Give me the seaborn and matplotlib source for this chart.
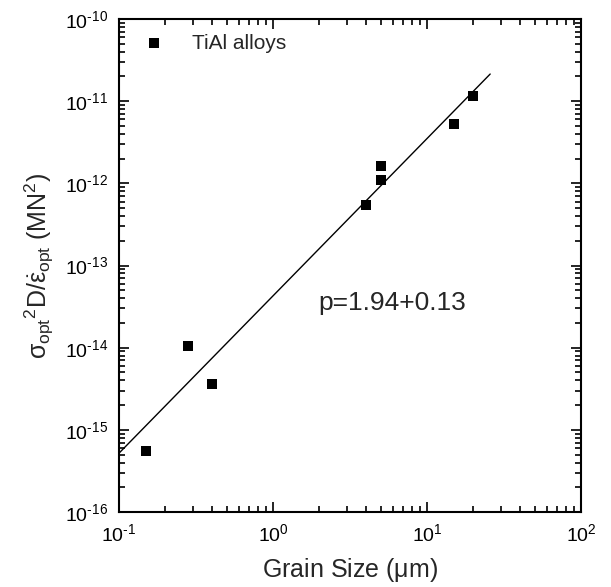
import matplotlib
matplotlib.use("Agg")
import matplotlib.pyplot as plt
import seaborn as sns
import numpy as np
import pandas as pd
from matplotlib.ticker import FixedLocator, NullFormatter, FuncFormatter

grain_size = [0.15, 0.28, 0.40, 4.0, 5.0, 5.0, 15.0, 20.0]
sigma_val = [5.6e-16, 1.05e-14, 3.6e-15, 5.4e-13, 1.1e-12, 1.62e-12, 5.3e-12, 1.17e-11]
fit_x = [0.1, 25.7]
fit_y = [5.2e-16, 2.14e-11]
series_label = "TiAl alloys"
annotation = "p=1.94+0.13"
x_limits = (0.1, 100)
y_limits = (1e-16, 1e-10)

sns.set_style("ticks")
plt.rcParams['font.family'] = ['Liberation Sans', 'DejaVu Sans']
plt.rcParams['mathtext.fontset'] = 'custom'
plt.rcParams['mathtext.rm'] = 'Liberation Sans'
plt.rcParams['mathtext.it'] = 'Liberation Sans'
plt.rcParams['mathtext.sf'] = 'Liberation Sans'

df = pd.DataFrame({"x": grain_size, "y": sigma_val})
fit = pd.DataFrame({"x": fit_x, "y": fit_y})

fig = plt.figure(figsize=(6.11, 5.87), dpi=100)
ax = fig.add_axes([0.1948, 0.1278, 0.951 - 0.1948, 0.9676 - 0.1278])

sns.lineplot(data=fit, x="x", y="y", ax=ax, color="black", lw=1.0, legend=False)
sns.scatterplot(data=df, x="x", y="y", ax=ax, marker="s", s=55, color="black",
                edgecolor="black", linewidth=0, label=series_label)

ax.set_xscale("log")
ax.set_yscale("log")
ax.set_xlim(*x_limits)
ax.set_ylim(*y_limits)


def pow_fmt(v, pos):
    e = int(round(np.log10(v)))
    s = str(abs(e))
    if e < 0:
        s = "\u2010" + s
    return r"$\mathrm{10^{%s}}$" % s


def log_ticks(lo, hi):
    e0, e1 = int(round(np.log10(lo))), int(round(np.log10(hi)))
    major = [10.0 ** e for e in range(e0, e1 + 1)]
    minor = [m * 10.0 ** e for e in range(e0, e1) for m in range(2, 10)]
    return major, minor


xmaj, xmin = log_ticks(*x_limits)
ymaj, ymin = log_ticks(*y_limits)
ax.xaxis.set_major_locator(FixedLocator(xmaj))
ax.xaxis.set_minor_locator(FixedLocator(xmin))
ax.yaxis.set_major_locator(FixedLocator(ymaj))
ax.yaxis.set_minor_locator(FixedLocator(ymin))
ax.xaxis.set_major_formatter(FuncFormatter(pow_fmt))
ax.yaxis.set_major_formatter(FuncFormatter(pow_fmt))
ax.xaxis.set_minor_formatter(NullFormatter())
ax.yaxis.set_minor_formatter(NullFormatter())

ax.tick_params(which="both", direction="in", top=True, right=True, width=1.2,
               labelsize=14, colors="black")
ax.tick_params(which="major", length=7, pad=8)
ax.tick_params(which="minor", length=4)
for s in ax.spines.values():
    s.set_linewidth(1.5)
    s.set_color("black")

ax.set_xlabel(r"Grain Size ($\mu$m)", fontsize=18, labelpad=8)
ax.set_ylabel(r"$\sigma_{opt}{}^{2}D/\dot{\varepsilon}_{opt}$ (MN$^2$)", fontsize=18, labelpad=6)

ax.text(0.431, 0.410, annotation, transform=ax.transAxes, fontsize=19,
        ha="left", va="baseline")

leg = ax.legend(loc="upper left", frameon=False, fontsize=15, handletextpad=0.8,
                borderaxespad=0.3, markerscale=1.0)

fig.savefig("out.png", dpi=100)
